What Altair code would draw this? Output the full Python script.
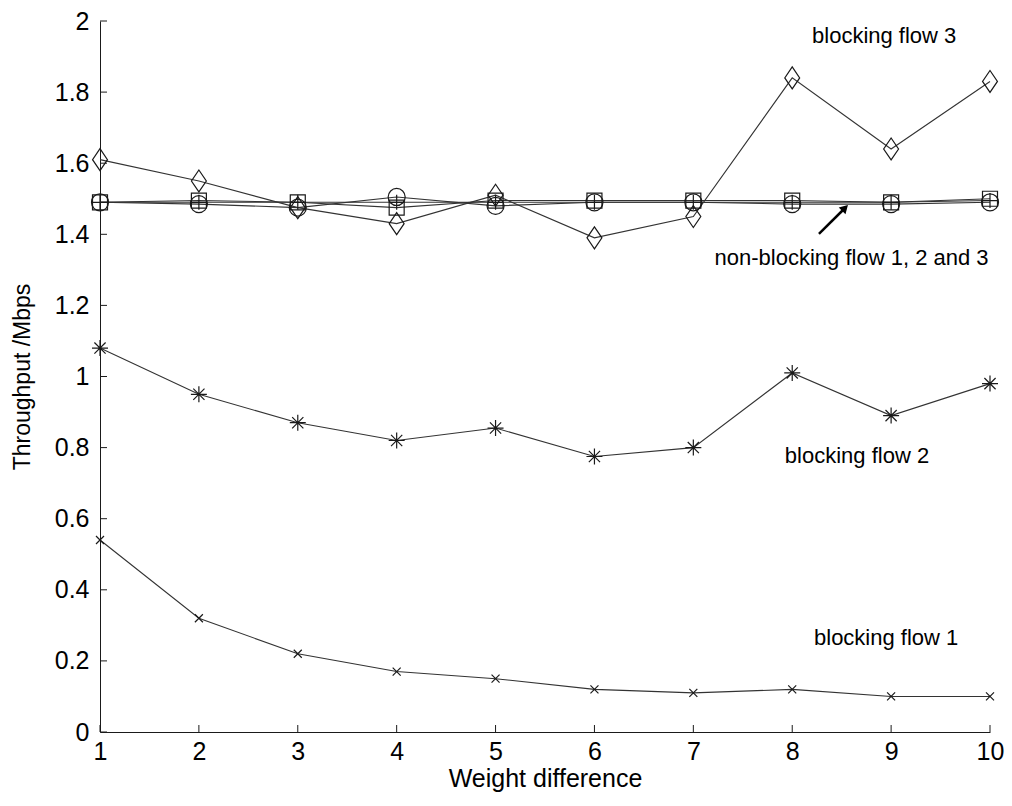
import altair as alt
import pandas as pd

# ---- data ----
weight_diff = [1, 2, 3, 4, 5, 6, 7, 8, 9, 10]
blocking_flow_1 = [0.54, 0.32, 0.22, 0.17, 0.15, 0.12, 0.11, 0.12, 0.10, 0.10]
blocking_flow_2 = [1.08, 0.95, 0.87, 0.82, 0.855, 0.775, 0.80, 1.01, 0.89, 0.98]
blocking_flow_3 = [1.61, 1.55, 1.475, 1.43, 1.51, 1.39, 1.45, 1.84, 1.64, 1.83]
nonblocking_flow_1 = [1.49, 1.485, 1.475, 1.505, 1.48, 1.49, 1.49, 1.485, 1.485, 1.49]
nonblocking_flow_2 = [1.49, 1.495, 1.49, 1.475, 1.495, 1.495, 1.495, 1.495, 1.49, 1.50]
nonblocking_flow_3 = [1.49, 1.49, 1.49, 1.49, 1.49, 1.49, 1.49, 1.49, 1.49, 1.495]

y_ticks = [0, 0.2, 0.4, 0.6, 0.8, 1.0, 1.2, 1.4, 1.6, 1.8, 2.0]
x_ticks = weight_diff

series_names = ["nb1", "nb2", "nb3", "bf3", "bf2", "bf1"]
series_values = [nonblocking_flow_1, nonblocking_flow_2, nonblocking_flow_3,
                 blocking_flow_3, blocking_flow_2, blocking_flow_1]
series_shapes = [
    "circle",
    "square",
    "M-1,0L1,0M0,-1L0,1",
    "M0,-1L0.68,0L0,1L-0.68,0Z",
    "M-1,0L1,0M0,-1L0,1M-0.7,-0.7L0.7,0.7M-0.7,0.7L0.7,-0.7",
    "M-1,-1L1,1M-1,1L1,-1",
]
series_sizes = [290, 225, 225, 480, 256, 64]

annotation_text = ["blocking flow 3", "non-blocking flow 1, 2 and 3",
                   "blocking flow 2", "blocking flow 1"]
annotation_x = [8.93, 8.60, 8.655, 8.95]
annotation_y = [1.958, 1.333, 0.776, 0.264]

arrow_from = (8.27, 1.401)
arrow_to = (8.534, 1.474)

# ---- build tables ----
frames = []
for name, vals in zip(series_names, series_values):
    frames.append(pd.DataFrame({"series": name, "x": weight_diff, "y": vals}))
df = pd.concat(frames, ignore_index=True)

ann = pd.DataFrame({"text": annotation_text, "x": annotation_x, "y": annotation_y})
arrow_df = pd.DataFrame({"x": [arrow_from[0]], "y": [arrow_from[1]],
                         "x2": [arrow_to[0]], "y2": [arrow_to[1]]})
tip_df = pd.DataFrame({"x": [arrow_to[0]], "y": [arrow_to[1]]})

W, H = 890, 711
FONT = "Liberation Sans"
INK = "#1a1a1a"

x_scale = alt.Scale(domain=[1, 10], nice=False, zero=False)
y_scale = alt.Scale(domain=[0, 2], nice=False, zero=False)

x_enc = alt.X("x:Q", scale=x_scale,
              axis=alt.Axis(values=x_ticks, format="d", title="Weight difference",
                            grid=False, ticks=False, labelPadding=7, domainColor=INK,
                            labelFontSize=25, titleFontSize=25, labelFont=FONT,
                            titleFont=FONT, titleFontWeight="normal",
                            labelColor="black", titleColor="black",
                            titlePadding=2, labelFlush=False))
y_enc = alt.Y("y:Q", scale=y_scale,
              axis=alt.Axis(values=y_ticks, format="~g", title="Throughput /Mbps",
                            grid=False, ticks=False, labelPadding=11,
                            domainColor=INK, labelFontSize=25, titleFontSize=23,
                            labelFont=FONT, titleFont=FONT, titleFontWeight="normal",
                            labelColor="black", titleColor="black",
                            titlePadding=20, labelFlush=False))

lines = alt.Chart(df).mark_line(color="#333333", strokeWidth=1.1).encode(
    x=x_enc, y=y_enc, detail="series:N")

point_layers = []
for name, shape, size in zip(series_names, series_shapes, series_sizes):
    point_layers.append(
        alt.Chart(df[df["series"] == name]).mark_point(
            filled=False, color=INK, strokeWidth=1.2, opacity=1,
            shape=shape, size=size).encode(
            x=alt.X("x:Q", scale=x_scale),
            y=alt.Y("y:Q", scale=y_scale))
    )

xt = pd.DataFrame({"x": x_ticks})
yt = pd.DataFrame({"y": y_ticks})
x_tick_marks = alt.Chart(xt).mark_rule(color=INK, strokeWidth=1).encode(
    x=alt.X("x:Q", scale=x_scale), y=alt.value(H), y2=alt.value(H - 7))
y_tick_marks = alt.Chart(yt).mark_rule(color=INK, strokeWidth=1).encode(
    y=alt.Y("y:Q", scale=y_scale), x=alt.value(0), x2=alt.value(7))

texts = alt.Chart(ann).mark_text(font=FONT, fontSize=22, color="black",
                                 align="center", baseline="middle").encode(
    x=alt.X("x:Q", scale=x_scale), y=alt.Y("y:Q", scale=y_scale), text="text:N")

arrow_line = alt.Chart(arrow_df).mark_rule(color="black", strokeWidth=2.5).encode(
    x=alt.X("x:Q", scale=x_scale), y=alt.Y("y:Q", scale=y_scale),
    x2="x2:Q", y2="y2:Q")
arrow_head = alt.Chart(tip_df).mark_point(shape="triangle-up", filled=True,
                                          color="black", size=90, angle=45,
                                          opacity=1).encode(
    x=alt.X("x:Q", scale=x_scale), y=alt.Y("y:Q", scale=y_scale))

chart = alt.layer(lines, *point_layers, x_tick_marks, y_tick_marks, texts,
                  arrow_line, arrow_head).properties(
    width=W, height=H,
    autosize=alt.AutoSizeParams(type="none"),
    padding={"left": 100, "top": 21, "right": 22, "bottom": 74},
    background="white",
).configure_view(stroke=None)

chart.save("out.html", embed_options={"renderer": "svg", "actions": False})
